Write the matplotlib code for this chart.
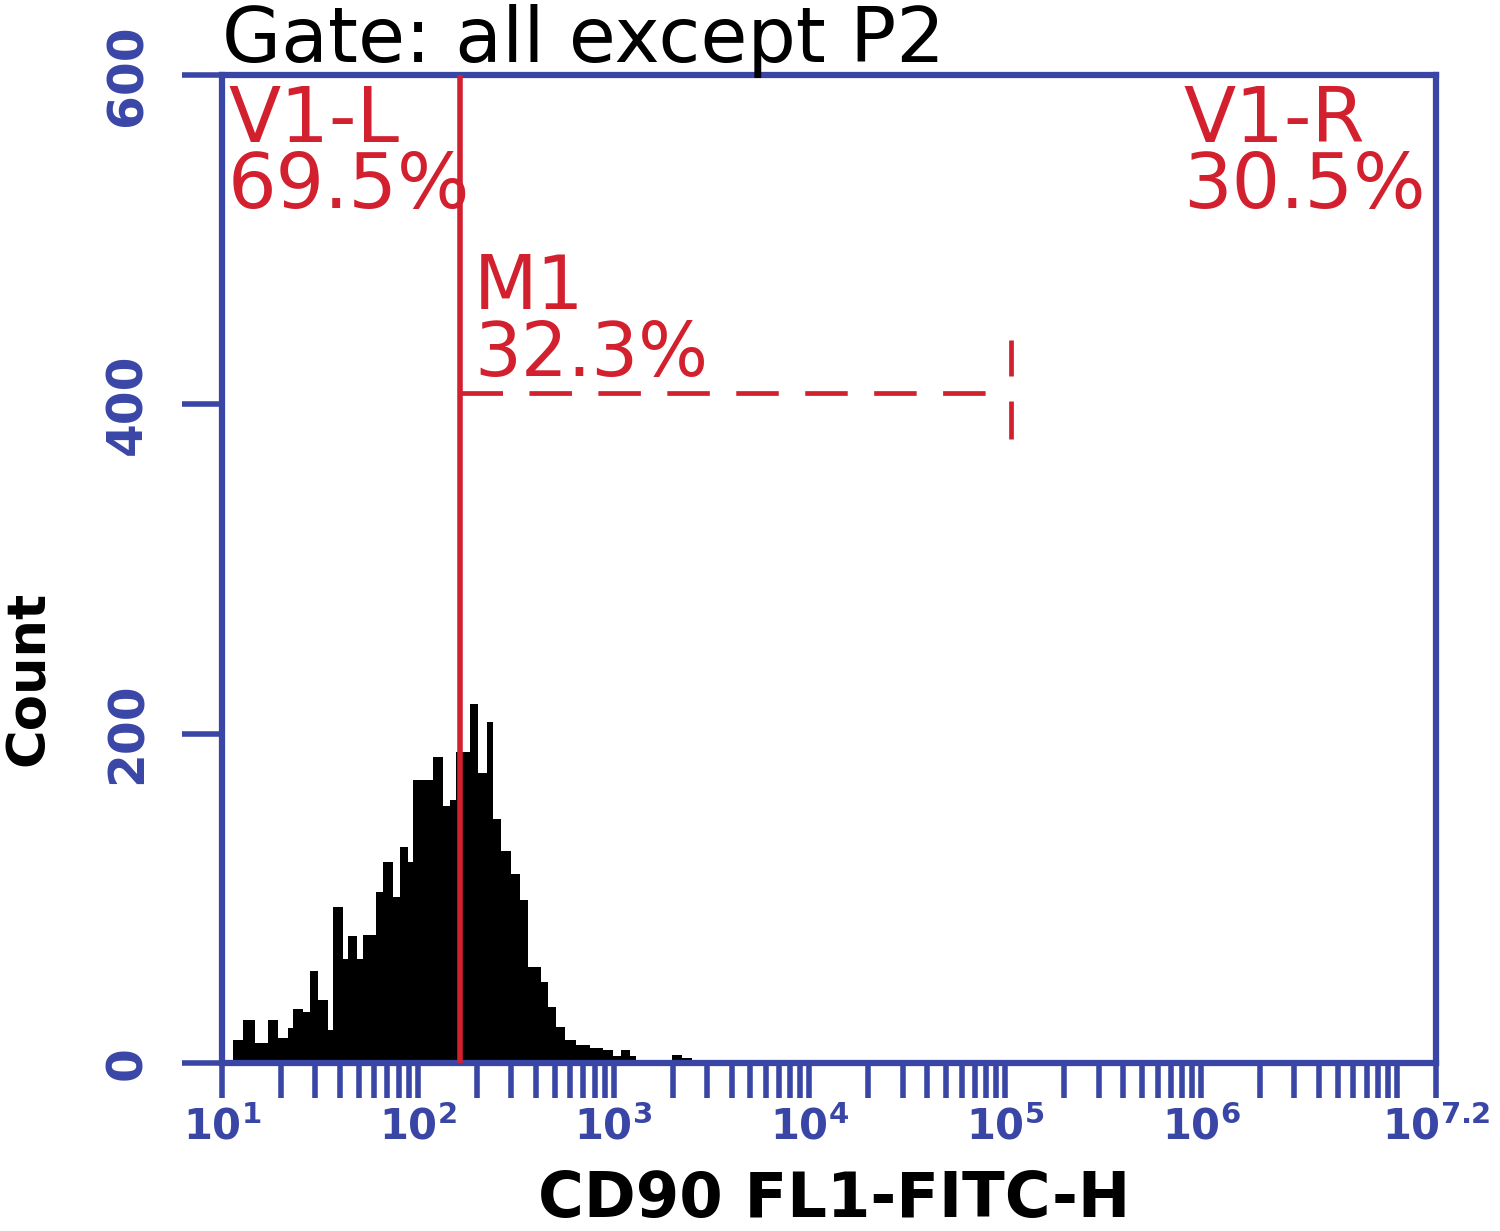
import numpy as np
import matplotlib
matplotlib.use("Agg")
import matplotlib.pyplot as plt
from matplotlib.ticker import FixedLocator, NullFormatter

# ---------------- data ----------------
# histogram bin edges (log10 of FL1 intensity) and counts
bin_edges_log = [1.058, 1.109, 1.168, 1.236, 1.287, 1.338, 1.364, 1.415, 1.449, 1.491,
                 1.542, 1.568, 1.619, 1.644, 1.687, 1.721, 1.789, 1.823, 1.874, 1.908,
                 1.951, 1.976, 2.078, 2.129, 2.163, 2.197, 2.265, 2.308, 2.351, 2.384,
                 2.427, 2.478, 2.520, 2.563, 2.631, 2.665, 2.708, 2.750, 2.810, 2.878,
                 2.945, 2.996, 3.039, 3.082, 3.116, 3.160, 3.296, 3.347, 3.398]
counts = [14, 26, 12, 26, 15, 21, 33, 31, 56, 38,
          20, 95, 63, 77, 63, 78, 104, 122, 101, 131,
          122, 172, 186, 156, 160, 189, 218, 176, 207, 148,
          129, 115, 99, 58, 49, 34, 22, 14, 11, 9,
          8, 4, 8, 4, 2, 0, 5, 3]

gate_log = 2.214          # V1 gate position (log10)
m1_end_log = 5.03         # M1 marker right end (log10)
m1_level = 407            # M1 marker height (count)

y_ticks = [0, 200, 400, 600]
y_tick_labels = ["0", "200", "400", "600"]
x_major_log = [1, 2, 3, 4, 5, 6, 7.2]
x_tick_labels = [r"$10^{1}$", r"$10^{2}$", r"$10^{3}$", r"$10^{4}$",
                 r"$10^{5}$", r"$10^{6}$", r"$10^{7.2}$"]

title = "Gate: all except P2"
x_label = "CD90 FL1-FITC-H"
y_label = "Count"
v1l_text = "V1-L\n69.5%"
v1r_text = "V1-R\n30.5%"
m1_text = "M1\n32.3%"

# ---------------- style ----------------
BLUE = "#3a46a6"
RED = "#d2202f"
W, H = 1500, 1231

plt.rcParams["mathtext.default"] = "bf"
plt.rcParams["font.family"] = ["DejaVu Sans"]

fig = plt.figure(figsize=(W / 100, H / 100), dpi=100)
left, right, top, bottom = 222, 1436, 75, 1063
ax = fig.add_axes([left / W, 1 - bottom / H, (right - left) / W, (bottom - top) / H])

edges = 10 ** np.array(bin_edges_log)
ax.stairs(counts, edges, fill=True, color="black", baseline=0, zorder=2)

ax.set_xscale("log")
ax.set_xlim(10 ** 1, 10 ** 7.2)
ax.set_ylim(0, 600)

# gate line
gx = 10 ** gate_log
ax.axvline(gx, color=RED, lw=4.0, zorder=5)

# M1 marker
mx = 10 ** m1_end_log
ax.plot([gx, mx], [m1_level, m1_level], color=RED, lw=3.4,
        dashes=(9.0, 5.6), solid_capstyle="butt", dash_capstyle="butt", zorder=5)
ax.plot([mx, mx], [m1_level + 10, m1_level + 32], color=RED, lw=3.4,
        solid_capstyle="butt", zorder=5)
ax.plot([mx, mx], [m1_level - 5, m1_level - 28], color=RED, lw=3.4,
        solid_capstyle="butt", zorder=5)

# ticks
ax.xaxis.set_major_locator(FixedLocator(10 ** np.array(x_major_log)))
ax.set_xticklabels(x_tick_labels)
minor = [k * 10 ** n for n in range(1, 8) for k in range(1, 10)
         if 10 < k * 10 ** n < 10 ** 7.2 and k != 1] + [1e7]
ax.xaxis.set_minor_locator(FixedLocator(minor))
ax.xaxis.set_minor_formatter(NullFormatter())
ax.tick_params(axis="x", which="both", direction="out", length=25, width=4.0,
               color=BLUE, labelcolor=BLUE, labelsize=30, pad=6)

ax.set_yticks(y_ticks)
ax.set_yticklabels(y_tick_labels, rotation=90, va="center", fontweight="bold")
ax.tick_params(axis="y", which="major", direction="out", length=29, width=4.0,
               color=BLUE, labelcolor=BLUE, labelsize=35, pad=22)

for s in ax.spines.values():
    s.set_color(BLUE)
    s.set_linewidth(4.5)

# texts (figure pixel coords)
def ftext(x, y, s, **kw):
    return fig.text(x / W, 1 - y / H, s, transform=fig.transFigure, **kw)

ftext(222, 62, title, fontsize=55, color="black", ha="left", va="baseline")
ftext(228, 208, v1l_text, fontsize=55, color=RED, ha="left", va="baseline",
      linespacing=0.86)
ftext(1183, 208, v1r_text, fontsize=55, color=RED, ha="left", va="baseline",
      linespacing=0.86)
ftext(474, 376, m1_text, fontsize=53, color=RED, ha="left", va="baseline",
      linespacing=0.9)
ftext(28, 678, y_label, fontsize=38, fontweight="bold", color="black",
      rotation=90, ha="center", va="center")
ftext(834, 1230, x_label, fontsize=45, fontweight="bold", color="black",
      ha="center", va="bottom")

fig.savefig("out.png", dpi=100)
